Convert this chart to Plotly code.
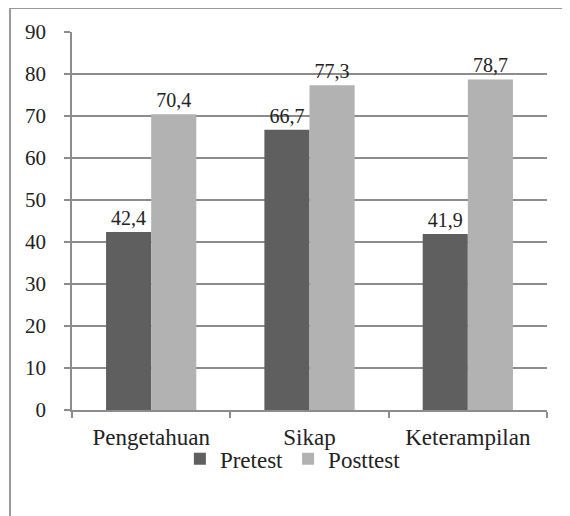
import plotly.graph_objects as go

categories = ["Pengetahuan", "Sikap", "Keterampilan"]
pretest = [42.4, 66.7, 41.9]
posttest = [70.4, 77.3, 78.7]
y_ticks = [0, 10, 20, 30, 40, 50, 60, 70, 80, 90]

FONT = "Liberation Serif"
GRID = "#8c8c8c"

# plot area in figure pixels (page is drawn with an 8px body offset)
L, R, T, B = 64, 539, 24, 402
PW, PH = R - L, B - T

fig = go.Figure()
fig.add_trace(go.Bar(name="Pretest", x=categories, y=pretest, marker=dict(color="#5f5f5f", line=dict(width=0)),
                     text=pretest, texttemplate="%{y:.1f}", textposition="outside",
                     textfont=dict(family=FONT, size=20, color="#222"), cliponaxis=False))
fig.add_trace(go.Bar(name="Posttest", x=categories, y=posttest, marker=dict(color="#b2b2b2", line=dict(width=0)),
                     text=posttest, texttemplate="%{y:.1f}", textposition="outside",
                     textfont=dict(family=FONT, size=20, color="#222"), cliponaxis=False))

fig.update_layout(
    width=570, height=516,
    margin=dict(l=L, r=570 - R, t=T, b=516 - B, autoexpand=False),
    paper_bgcolor="white", plot_bgcolor="white",
    barmode="group", bargap=0.43, bargroupgap=0,
    separators=",.",
    font=dict(family=FONT, size=19, color="#222"),
    showlegend=True,
    legend=dict(orientation="h", x=0.465, xanchor="center", y=-0.072, yanchor="top",
                bgcolor="rgba(0,0,0,0)",
                font=dict(family=FONT, size=23, color="#222"), itemwidth=30, traceorder="normal"),
    xaxis=dict(showline=True, linecolor=GRID, linewidth=1.5, ticks="outside", tickson="boundaries",
               ticklen=6, tickcolor=GRID, tickwidth=1.5, showgrid=False, automargin=False,
               ticklabelstandoff=6,
               tickfont=dict(family=FONT, size=23, color="#222")),
    yaxis=dict(range=[0, 90], tickvals=y_ticks, showline=True, linecolor=GRID, linewidth=1.5,
               ticks="outside", ticklen=6, tickcolor=GRID, tickwidth=1.5, automargin=False,
               showgrid=True, gridcolor=GRID, gridwidth=1.5, zeroline=False,
               ticklabelstandoff=14,
               tickfont=dict(family=FONT, size=21, color="#222")),
    shapes=[
        dict(type="line", xref="paper", yref="paper", x0=(2 - L) / PW, x1=(570 - L) / PW,
             y0=B / PH, y1=B / PH, line=dict(color="#999", width=2)),
        dict(type="line", xref="paper", yref="paper", x0=(2 - L) / PW, x1=(2 - L) / PW,
             y0=B / PH, y1=(B - 516) / PH, line=dict(color="#999", width=2)),
    ],
)

fig.write_html("out.html")
